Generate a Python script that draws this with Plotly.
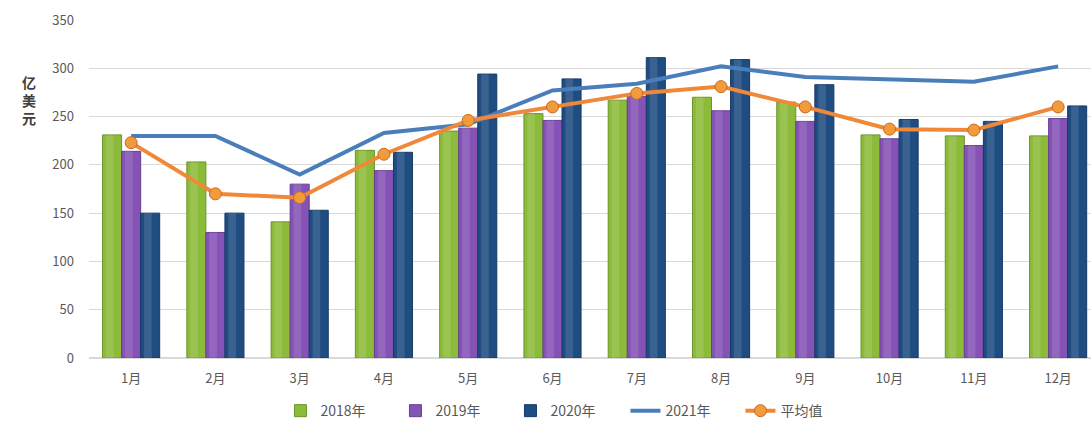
import plotly.graph_objects as go

months = ["1月", "2月", "3月", "4月", "5月", "6月", "7月", "8月", "9月", "10月", "11月", "12月"]
y2018 = [231, 203, 141, 215, 235, 253, 267, 270, 265, 231, 230, 230]
y2019 = [214, 130, 180, 194, 238, 246, 271, 256, 245, 227, 220, 248]
y2020 = [150, 150, 153, 213, 294, 289, 311, 309, 283, 247, 245, 261]
y2021 = [230, 230, 190, 233, 242, 277, 284, 302, 291, 289, 286, 302]
avg = [223, 170, 166, 211, 246, 260, 274, 281, 260, 237, 236, 260]

names = ["2018年", "2019年", "2020年"]
colors = ["#8cbb3a", "#8553b5", "#1f4d82"]
edges = ["#6a9428", "#6a3d96", "#153a66"]
W = 0.226
offsets = [-0.339, -0.113, 0.113]

fig = go.Figure()
for vals, nm, c, e, off in zip([y2018, y2019, y2020], names, colors, edges, offsets):
    fig.add_trace(go.Bar(x=months, y=vals, name=nm, width=W, offset=off,
                         marker=dict(color=c, line=dict(color=e, width=1))))
# soft highlight stripe on each bar (cylinder look)
for vals, off in zip([y2018, y2019, y2020], offsets):
    fig.add_trace(go.Bar(x=months, y=vals, width=W * 0.4, offset=off + W * 0.18,
                         marker=dict(color="rgba(255,255,255,0.12)", line=dict(width=0)),
                         showlegend=False, hoverinfo="skip"))

fig.add_trace(go.Scatter(x=months, y=y2021, name="2021年", mode="lines",
                         line=dict(color="#4a7ebb", width=4)))
fig.add_trace(go.Scatter(x=months, y=avg, name="平均值", mode="lines+markers",
                         line=dict(color="#f0883a", width=4),
                         marker=dict(size=12, color="#f29b3c", line=dict(color="#c86a1e", width=1))))

font = "Noto Sans CJK SC"
fig.update_layout(
    width=1091, height=421,
    margin=dict(l=89, r=0, t=20, b=63, autoexpand=False),
    paper_bgcolor="white", plot_bgcolor="white",
    barmode="overlay",
    font=dict(family=font, size=13, color="#595959"),
    showlegend=True,
    legend=dict(orientation="h", x=0.478, xanchor="center", y=-0.157, yanchor="middle",
                font=dict(size=14, color="#595959"), traceorder="normal",
                entrywidth=70, entrywidthmode="pixels"),
    xaxis=dict(range=[-0.5, 11.39], showgrid=False, showline=False, ticks="",
               ticklabelstandoff=11, tickfont=dict(size=13, color="#595959")),
    yaxis=dict(range=[0, 350], dtick=50, showgrid=True, gridcolor="#d9d9d9", gridwidth=1,
               zeroline=True, zerolinecolor="#d9d9d9", showline=False,
               ticklabelstandoff=14, tickfont=dict(size=13, color="#595959")),
)
fig.add_annotation(text="<b>亿<br>美<br>元</b>", xref="paper", yref="paper",
                   x=-0.069, y=0.852, showarrow=False,
                   font=dict(size=14, color="#404040", family=font), align="center")

fig.write_html("out.html")
